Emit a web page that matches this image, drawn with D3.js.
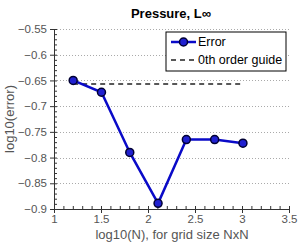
<!DOCTYPE html>
<html>
<head>
<meta charset="utf-8">
<script src="https://cdn.jsdelivr.net/npm/d3@7"></script>
<style>
body { margin: 0; background: #fff; }
text { font-family: "Liberation Sans", Arial, sans-serif; }
</style>
</head>
<body>
<script>
var w = 300;
var h = 243;
// data
var logN = [1.204, 1.505, 1.806, 2.107, 2.408, 2.709, 3.010];
var logErr = [-0.650, -0.673, -0.790, -0.889, -0.765, -0.765, -0.772];
var guideX = [1.204, 3.010];
var guideY = -0.657;
var xTicks = [1, 1.5, 2, 2.5, 3, 3.5];
var yTicks = [-0.55, -0.6, -0.65, -0.7, -0.75, -0.8, -0.85, -0.9];
var legendLabels = ["Error", "0th order guide"];

var pLeft = 54, pRight = 289, pTop = 29, pBottom = 209;

var svg = d3.select("body").append("svg")
    .attr("width", w)
    .attr("height", h);

var x = d3.scaleLinear().domain([1, 3.5]).range([pLeft, pRight]);
var y = d3.scaleLinear().domain([-0.9, -0.55]).range([pBottom, pTop]);

/** grid lines **/
svg.selectAll("line.grid")
    .data(yTicks.slice(0, yTicks.length - 1))
    .enter()
    .append("line")
    .attr("class", "grid")
    .attr("x1", pLeft).attr("x2", pRight)
    .attr("y1", function(d){ return Math.round(y(d)) + 0.5; })
    .attr("y2", function(d){ return Math.round(y(d)) + 0.5; })
    .attr("stroke", "#aaa")
    .attr("stroke-width", 1)
    .attr("stroke-dasharray", "1,2");

/** minor ticks, pointing inward **/
var yMinor = d3.range(-0.9, -0.549, 0.01);
svg.append("g")
    .attr("transform", "translate(" + pLeft + ",0)")
    .call(d3.axisRight(y).tickValues(yMinor).tickSize(3).tickFormat(""))
    .call(function(g){ g.select(".domain").remove(); });

var xMinor = d3.range(1, 3.501, 0.1);
svg.append("g")
    .attr("transform", "translate(0," + pBottom + ")")
    .call(d3.axisTop(x).tickValues(xMinor).tickSize(3).tickFormat(""))
    .call(function(g){ g.select(".domain").remove(); });

/** main axes **/
var yAxis = svg.append("g")
    .attr("transform", "translate(" + pLeft + ",0)")
    .call(d3.axisLeft(y).tickValues(yTicks).tickSize(4).tickSizeOuter(0)
        .tickFormat(function(d){ return String(d).replace("-", "\u2212"); }));
yAxis.selectAll("text").attr("font-size", 11.5).attr("fill", "#555");

var xAxis = svg.append("g")
    .attr("transform", "translate(0," + pBottom + ")")
    .call(d3.axisBottom(x).tickValues(xTicks).tickSize(4).tickSizeOuter(0)
        .tickFormat(function(d){ return d; }));
xAxis.selectAll("text").attr("font-size", 11.5).attr("fill", "#555").attr("dy", "0.6em");

svg.selectAll(".domain").attr("stroke", "#333");
svg.selectAll(".tick line").attr("stroke", "#333");

/** guide line **/
svg.append("line")
    .attr("x1", x(guideX[0])).attr("x2", x(guideX[1]))
    .attr("y1", y(guideY)).attr("y2", y(guideY))
    .attr("stroke", "#222")
    .attr("stroke-width", 1.5)
    .attr("stroke-dasharray", "5,4");

/** error line **/
var line = d3.line()
    .x(function(d, i){ return x(logN[i]); })
    .y(function(d){ return y(d); });

svg.append("path")
    .datum(logErr)
    .attr("d", line)
    .attr("fill", "none")
    .attr("stroke", "#0a0ac8")
    .attr("stroke-width", 2.5);

svg.selectAll("circle.pt")
    .data(logErr)
    .enter()
    .append("circle")
    .attr("class", "pt")
    .attr("cx", function(d, i){ return x(logN[i]); })
    .attr("cy", function(d){ return y(d); })
    .attr("r", 4)
    .attr("fill", "#2020d0")
    .attr("stroke", "#000033")
    .attr("stroke-width", 1.5);

/** title **/
svg.append("text")
    .attr("x", 171).attr("y", 18)
    .attr("text-anchor", "middle")
    .attr("font-size", 13)
    .attr("font-weight", "bold")
    .text("Pressure, L\u221e");

/** axis labels **/
svg.append("text")
    .attr("x", 172).attr("y", 239)
    .attr("text-anchor", "middle")
    .attr("font-size", 13)
    .attr("fill", "#555")
    .text("log10(N), for grid size NxN");

svg.append("text")
    .attr("transform", "translate(14," + ((pTop + pBottom) / 2) + ") rotate(-90)")
    .attr("text-anchor", "middle")
    .attr("font-size", 13)
    .attr("fill", "#555")
    .text("log10(error)");

/** legend **/
var lg = svg.append("g").attr("transform", "translate(166,32)");
lg.append("rect")
    .attr("width", 120).attr("height", 39)
    .attr("fill", "#fff")
    .attr("stroke", "#000")
    .attr("stroke-width", 1);
lg.append("line")
    .attr("x1", 5).attr("x2", 30).attr("y1", 10).attr("y2", 10)
    .attr("stroke", "#0a0ac8").attr("stroke-width", 2.5);
lg.append("circle")
    .attr("cx", 17.5).attr("cy", 10).attr("r", 4)
    .attr("fill", "#2020d0").attr("stroke", "#000033").attr("stroke-width", 1.5);
lg.append("line")
    .attr("x1", 5).attr("x2", 30).attr("y1", 28).attr("y2", 28)
    .attr("stroke", "#222").attr("stroke-width", 1.5).attr("stroke-dasharray", "5,4");
lg.selectAll("text.lab")
    .data(legendLabels)
    .enter()
    .append("text")
    .attr("class", "lab")
    .attr("x", 32)
    .attr("y", function(d, i){ return 14 + i * 18; })
    .attr("font-size", 12.5)
    .text(function(d){ return d; });
</script>
</body>
</html>
